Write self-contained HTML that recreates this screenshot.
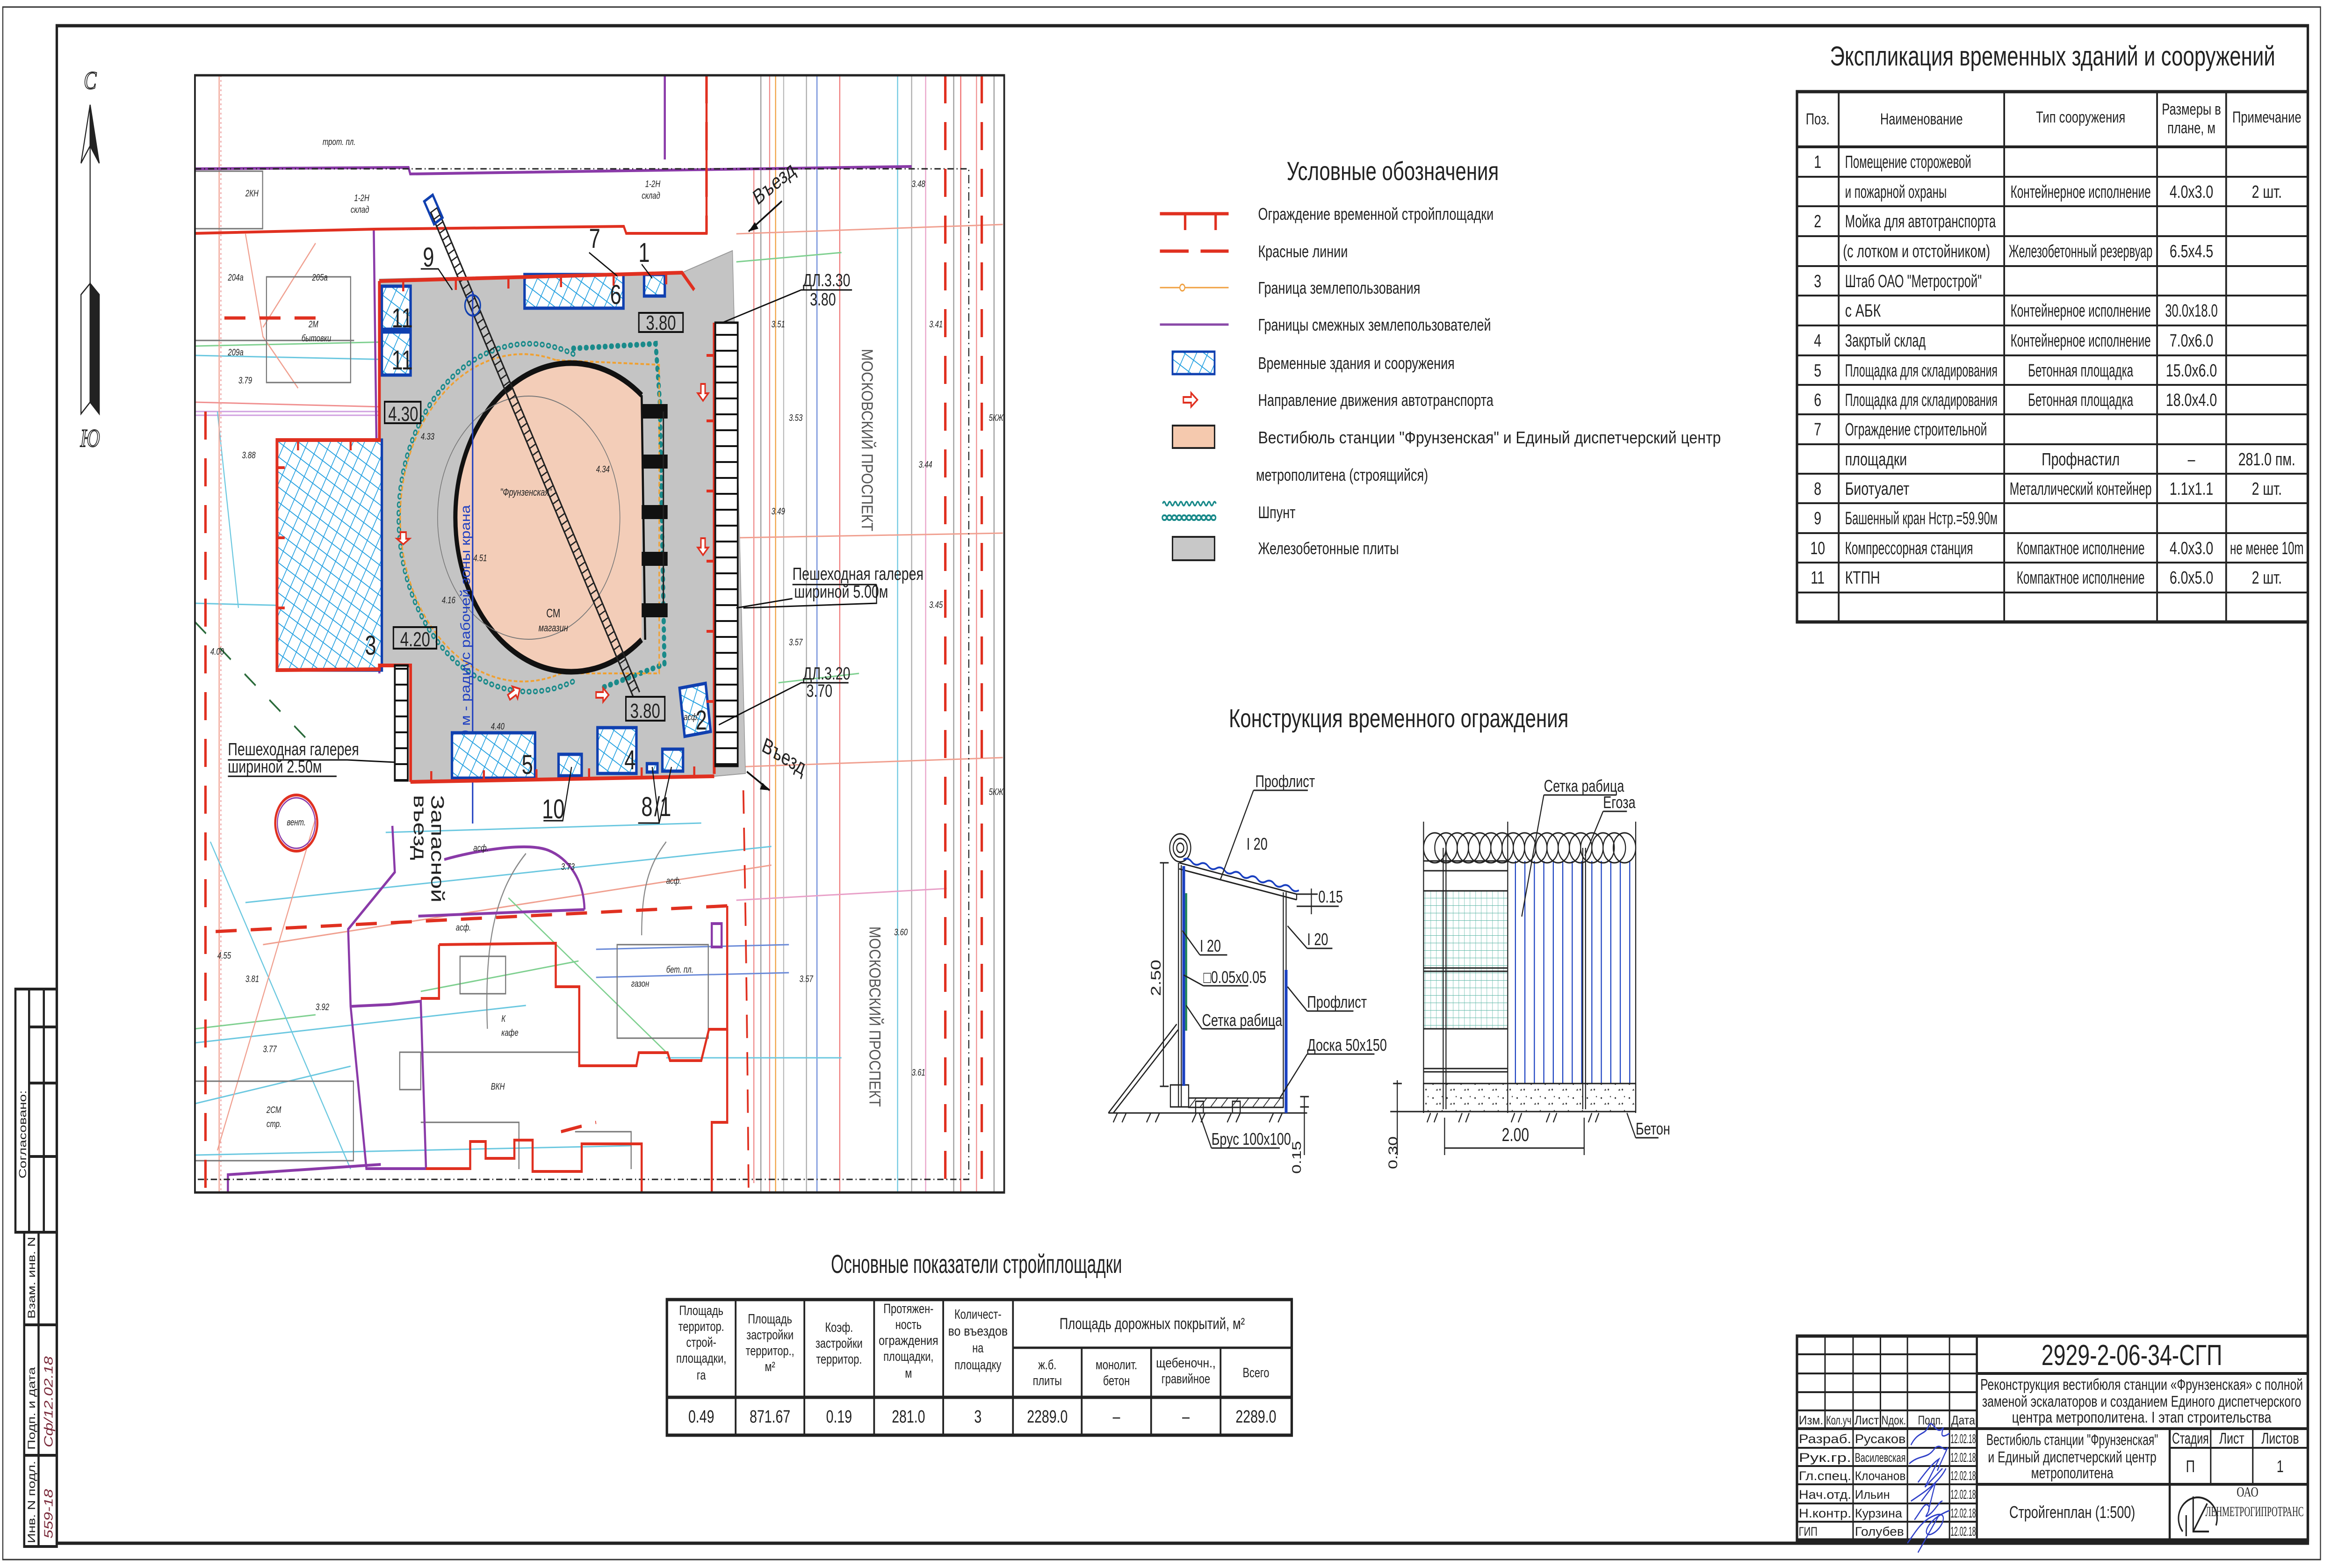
<!DOCTYPE html>
<html><head><meta charset="utf-8"><style>
html,body{margin:0;padding:0;background:#fff;width:100%;height:100%;overflow:hidden;}
svg{display:block;width:100vw;height:100vh;}
text{font-family:"Liberation Sans Narrow","Liberation Sans","DejaVu Sans",sans-serif;fill:#222;}
.sm{font-size:20px;font-style:italic;fill:#555;}
.it{font-style:italic;}
</style></head><body>
<svg viewBox="0 0 6668 3353" preserveAspectRatio="none" xmlns="http://www.w3.org/2000/svg">
<defs>
<pattern id="hat" width="28" height="28" patternUnits="userSpaceOnUse" patternTransform="rotate(30)">
<rect width="28" height="28" fill="#ffffff"/>
<path d="M0 0H28M0 0V28" stroke="#1e9ee0" stroke-width="4"/>
</pattern>
<pattern id="lad" width="40" height="34" patternUnits="userSpaceOnUse">
<rect width="40" height="34" fill="#fff"/><path d="M0 2H40" stroke="#111" stroke-width="4"/>
</pattern>
<pattern id="mesh" width="16" height="16" patternUnits="userSpaceOnUse">
<path d="M0 0H16M0 0V16" stroke="#5fb8a8" stroke-width="2" fill="none"/>
</pattern>
<pattern id="conc" width="40" height="30" patternUnits="userSpaceOnUse">
<rect width="40" height="30" fill="#fff"/><circle cx="7" cy="8" r="2" fill="#333"/><circle cx="27" cy="20" r="2" fill="#333"/><circle cx="33" cy="5" r="1.5" fill="#333"/><path d="M15 22l4 -4l2 4z" fill="#333"/>
</pattern>
<pattern id="gh" width="30" height="30" patternUnits="userSpaceOnUse">
<path d="M0 30L30 0" stroke="#222" stroke-width="2"/>
</pattern>
<clipPath id="mapc"><rect x="556" y="161" width="2308" height="2389"/></clipPath>
</defs>

<rect x="8" y="15" width="6610" height="3320" fill="none" stroke="#333" stroke-width="3"/>
<rect x="162" y="55" width="6420" height="3245" fill="none" stroke="#222" stroke-width="7"/>

<g stroke="#222" stroke-width="6" fill="none">
<rect x="44" y="2115" width="118" height="520"/>
<line x1="83" y1="2115" x2="83" y2="2635"/><line x1="125" y1="2115" x2="125" y2="2635"/>
<line x1="83" y1="2196" x2="162" y2="2196"/><line x1="83" y1="2316" x2="162" y2="2316"/><line x1="83" y1="2473" x2="162" y2="2473"/>
<rect x="69" y="2635" width="93" height="672"/>
<line x1="110" y1="2635" x2="110" y2="3307"/>
<line x1="69" y1="2833" x2="162" y2="2833"/><line x1="69" y1="3112" x2="162" y2="3112"/>
</g>
<text transform="translate(75,2520) rotate(-90)" font-size="30">Согласовано:</text>
<text transform="translate(100,2820) rotate(-90)" font-size="30">Взам. инв. N</text>
<text transform="translate(100,3100) rotate(-90)" font-size="30">Подп. и дата</text>
<text transform="translate(100,3300) rotate(-90)" font-size="30">Инв. N подл.</text>
<text transform="translate(150,3095) rotate(-90)" font-size="34" class="it" style="fill:#7a2a3a">Сф/12.02.18</text>
<text transform="translate(150,3290) rotate(-90)" font-size="34" class="it" style="fill:#7a2a3a">559-18</text>

<text x="257" y="190" font-size="54" text-anchor="middle" style="font-family:'Liberation Serif',serif;font-style:italic;fill:#fff;stroke:#222;stroke-width:2">С</text>
<path d="M257 224 L231 349 L257 312 Z" fill="#fff" stroke="#222" stroke-width="3"/>
<path d="M257 224 L283 349 L257 312 Z" fill="#222" stroke="#222" stroke-width="3"/>
<line x1="257" y1="312" x2="257" y2="606" stroke="#222" stroke-width="3"/>
<path d="M231 630 L257 606 L257 860 L231 885 Z" fill="#fff" stroke="#222" stroke-width="3"/>
<path d="M283 630 L257 606 L257 860 L283 885 Z" fill="#222" stroke="#222" stroke-width="3"/>
<text x="257" y="955" font-size="54" text-anchor="middle" style="font-family:'Liberation Serif',serif;font-style:italic;fill:#fff;stroke:#222;stroke-width:2">Ю</text>

<!-- ================= MAP ================= -->
<g clip-path="url(#mapc)">
<rect x="556" y="161" width="2308" height="2389" fill="#fff"/>
<g fill="none" stroke-width="3">
<path d="M2170 161V2550" stroke="#999"/><path d="M2195 161V2550" stroke="#e88"/><path d="M2212 161V2550" stroke="#f0a040"/>
<path d="M2300 161V2550" stroke="#aaa"/><path d="M2330 161V2550" stroke="#6a8ad8"/><path d="M2395 161V2550" stroke="#e77"/>
<path d="M2560 161V2550" stroke="#6cc8e0"/><path d="M2600 161V2550" stroke="#aaa"/><path d="M2640 161V2550" stroke="#e8a0c8"/>
<path d="M2720 161V2550" stroke="#999"/><path d="M2740 161V2550" stroke="#e66"/><path d="M2835 161V2550" stroke="#999"/>
<path d="M2150 361V2530" stroke="#e88"/><path d="M2235 161V2550" stroke="#bbb"/><path d="M2785 161V2550" stroke="#f09090"/>
<path d="M556 1290L1082 1300" stroke="#6cc8e0"/><path d="M556 860L1090 870" stroke="#f09090"/>
<path d="M556 760L1180 770" stroke="#6cc8e0"/><path d="M556 740L1180 730" stroke="#7fd090"/>
<path d="M556 880L1120 880" stroke="#d0a0e0"/><path d="M556 888L1120 888" stroke="#d0a0e0"/>
<path d="M700 500L750 720L850 830" stroke="#f0a090"/><path d="M900 520L750 700" stroke="#f0a090"/>
<path d="M620 880L680 1300" stroke="#6cc8e0"/><path d="M625 161V2550" stroke="#f0a090"/>
<path d="M630 161V2550" stroke="#eda0a0" stroke-dasharray="4 6"/>
<path d="M700 1930L2200 1810" stroke="#6cc8e0"/><path d="M750 2020L2200 1850" stroke="#f0a090"/>
<path d="M556 2230L1500 2150" stroke="#6cc8e0"/><path d="M1200 2120L1650 2055" stroke="#7fd090"/>
<path d="M1700 2030L2250 2020" stroke="#6a8ad8"/><path d="M1700 2090L2250 2080" stroke="#6a8ad8"/>
<path d="M1900 2262L2400 2262" stroke="#6cc8e0"/><path d="M2100 1925L2700 1900" stroke="#e8a0c8"/>
<path d="M556 2360L1000 2280" stroke="#6cc8e0"/><path d="M556 2470L1800 2450" stroke="#6cc8e0"/>
<path d="M556 2200L900 2170" stroke="#7fd090"/><path d="M1100 1780L2000 1760" stroke="#6cc8e0"/>
<path d="M600 1800L1000 2500" stroke="#6cc8e0"/><path d="M900 1750L620 2460" stroke="#f0a090"/>
<path d="M1450 1920L1900 2250" stroke="#7fd090"/><path d="M2100 1640L2860 1620" stroke="#f0a090"/>
<path d="M2100 500L2860 480" stroke="#f0a090"/><path d="M2100 1150L2860 1140" stroke="#f0a090"/>
<path d="M2100 560L2400 540" stroke="#7fd090"/><path d="M2220 1460L2450 1440" stroke="#7fd090"/>
<path d="M1500 1825C1420 1900 1380 2000 1390 2200" stroke="#888"/>
<path d="M1900 1800C1850 1850 1830 1900 1830 2000" stroke="#888"/>
</g>
<g fill="none" stroke="#777" stroke-width="3">
<rect x="556" y="366" width="193" height="123"/>
<rect x="760" y="592" width="240" height="226"/>
<line x1="556" y1="728" x2="1010" y2="728"/>
<rect x="556" y="2312" width="452" height="170"/>
<rect x="1140" y="2250" width="60" height="80"/>
<path d="M1200 2250L1650 2250"/><path d="M1200 2400L1480 2400L1480 2500"/>
<path d="M1760 2020L2020 2020L2020 2220L1760 2220Z"/>
<rect x="1312" y="2045" width="130" height="80"/>
<path d="M1640 2420L1800 2420L1800 2500"/>
</g>
<g fill="none" stroke="#8a3aa8" stroke-width="6">
<path d="M556 361L1165 358L1170 372L2600 356"/>
<path d="M1896 161V341"/>
<path d="M1066 492L1082 1440"/>
<path d="M1119 1766L1126 1865L993 1987L1000 2152L1045 2499L1215 2499L1200 2141L1112 2148L1000 2152"/>
<path d="M1193 1959L1667 1945"/>
<path d="M1267 1838C1350 1820 1500 1800 1563 1818C1620 1835 1665 1880 1667 1945"/>
<path d="M1086 2490L650 2512L650 2550"/>
<rect x="2030" y="1975" width="28" height="50"/>
<rect x="1860" y="1320" width="30" height="40"/>
</g>
<circle cx="845" cy="1760" r="60" fill="none" stroke="#e03020" stroke-width="6"/>
<circle cx="845" cy="1760" r="54" fill="none" stroke="#8a3aa8" stroke-width="3"/>
<text x="845" y="1765" font-size="20" class="it" text-anchor="middle">вент.</text>
<path d="M556 361H2763V2522H556" fill="none" stroke="#222" stroke-width="3" stroke-dasharray="18 8 3 8"/>
<g fill="none" stroke="#e03020" stroke-width="7" stroke-dasharray="60 40">
<path d="M586 880V2550"/><path d="M2696 161V2550"/><path d="M2800 161V2550"/>
<path d="M615 1992L2074 1937"/>
<path d="M640 680H900"/><path d="M1170 715H1950"/>
<path d="M2015 161V500"/>
<path d="M1600 2420L1700 2400"/>
</g>
<path d="M556 1330L900 1600" fill="none" stroke="#2a6a3a" stroke-width="4" stroke-dasharray="40 50"/>
<path d="M1180 1500L1600 1450" fill="none" stroke="#2a6a3a" stroke-width="4" stroke-dasharray="30 40"/>
<g fill="none" stroke="#e03020" stroke-width="6">
<path d="M556 499L1067 490L1779 484L1786 499L2015 499L2015 161"/>
<path d="M1252 2020L1585 2017L1585 2110L1652 2110L1652 2279L1815 2279L1822 2251L1904 2251L1911 2268L2000 2268L2022 2201L2074 2201L2074 1937"/>
<path d="M1252 2020L1252 2135L1200 2135"/>
<path d="M1215 2499L1341 2499L1341 2441L1385 2441L1385 2477L1467 2477L1467 2438L1519 2438L1519 2505L1659 2505L1659 2446L1830 2446L1830 2550"/>
<path d="M2074 2201L2074 2400L2030 2400L2030 2550"/>
</g>

<path d="M1082 597L1948 582L2089 536L2126 1654L2037 1660L1171 1674L1171 1423L1082 1423Z" fill="#c4c4c4" stroke="#999" stroke-width="2"/>
<path d="M1635 757A372 372 0 1 0 1635 1457" fill="none" stroke="#1a8a8a" stroke-width="12" stroke-dasharray="2 16" stroke-linecap="round"/>
<path d="M1635 757A372 372 0 1 0 1635 1457" fill="none" stroke="#c4c4c4" stroke-width="5" stroke-dasharray="2 16" stroke-linecap="round"/>
<path d="M1635 745L1870 735L1882 860L1895 1420L1720 1470" fill="none" stroke="#1a8a8a" stroke-width="12" stroke-dasharray="2 16" stroke-linecap="round"/>
<path d="M1600 1160c10 40-10 80 0 120s-10 80 0 120M1750 1100c10 40-10 80 0 120s-10 80 0 120" fill="none" stroke="#1a8a8a" stroke-width="4"/>
<path d="M1585 770A350 350 0 1 0 1600 1440L1880 1440L1880 780Z" fill="none" stroke="#f0a030" stroke-width="4" stroke-dasharray="10 6"/>
<path d="M1830 845A330 330 0 1 0 1830 1368Z" fill="#f3cdb8"/>
<path d="M1830 845A330 330 0 1 0 1830 1368" fill="none" stroke="#111" stroke-width="12"/>
<path d="M1830 845L1840 1368" stroke="#111" stroke-width="6"/>
<circle cx="1508" cy="1107" r="260" fill="none" stroke="#777" stroke-width="2"/>
<g fill="#111">
<rect x="1830" y="864" width="74" height="31"/><rect x="1830" y="972" width="74" height="30"/>
<rect x="1830" y="1080" width="74" height="30"/><rect x="1830" y="1180" width="74" height="30"/>
<rect x="1830" y="1290" width="74" height="30"/>
</g>
<path d="M1892 880V1290" stroke="#222" stroke-width="4"/>
<text x="1500" y="1060" font-size="22" class="it" text-anchor="middle">"Фрунзенская"</text>
<text x="1578" y="1320" font-size="26" text-anchor="middle">СМ</text>
<text x="1578" y="1350" font-size="22" class="it" text-anchor="middle">магазин</text>
<path d="M1246 443L1824 1480M1228 453L1806 1490" stroke="#222" stroke-width="4"/>
<path d="M1237 448L1815 1485" stroke="#222" stroke-width="20" stroke-dasharray="3 14"/>
<rect x="1222" y="420" width="28" height="56" transform="rotate(-30 1236 448)" fill="none" stroke="#1040b0" stroke-width="6"/>
<circle cx="1348" cy="653" r="22" fill="none" stroke="#1040b0" stroke-width="4"/>
<path d="M1348 623V1761" stroke="#2040c0" stroke-width="4"/>
<text transform="translate(1340,1640) rotate(-90)" font-size="38" textLength="560" lengthAdjust="spacingAndGlyphs" style="fill:#2040c0">R=60 м - радиус рабочей зоны крана</text>

<g fill="url(#hat)" stroke="#1040b0" stroke-width="7">
<rect x="790" y="941" width="299" height="492"/>
<rect x="1089" y="612" width="82" height="92"/><rect x="1089" y="710" width="82" height="92"/>
<rect x="1496" y="587" width="282" height="72"/>
<rect x="1837" y="587" width="59" height="46"/>
<rect x="1289" y="1567" width="237" height="97"/>
<rect x="1593" y="1613" width="66" height="46"/>
<rect x="1704" y="1556" width="111" height="98"/>
<rect x="1889" y="1602" width="59" height="47"/>
<rect x="1845" y="1633" width="30" height="18"/>
<rect x="1945" y="1466" width="75" height="104" transform="rotate(-8 1982 1518)"/>
</g>
<g fill="none" stroke="#e03020" stroke-width="8">
<path d="M1082 601L1945 583L1980 620"/>
<path d="M2037 690V1655"/>
<path d="M1171 1672L2037 1660"/>
<path d="M1171 1672V1423L1082 1423V1431L790 1433V941L1082 941V601"/>
</g>
<g stroke="#e03020" stroke-width="6">
<path d="M1150 601v22M1300 598v22M1450 595v22M1600 592v22M1750 589v22M1900 586v22"/>
<path d="M2037 760h-22M2037 900h-22M2037 1050h-22M2037 1200h-22M2037 1350h-22M2037 1500h-22"/>
<path d="M1230 1671v-22M1380 1669v-22M1530 1667v-22M1680 1665v-22M1830 1663v-22M1980 1661v-22"/>
<path d="M790 1000h22M790 1150h22M790 1300h22M850 941v22M1000 941v22"/>
</g>
<rect x="2040" y="690" width="64" height="948" fill="url(#lad)" stroke="#111" stroke-width="5"/>
<rect x="1126" y="1423" width="37" height="246" fill="url(#lad)" stroke="#111" stroke-width="5"/>
<g fill="#fff" stroke="#e03020" stroke-width="4">
<path d="M1140 1140h14v-10l12 18l-12 18v-10h-14z" transform="rotate(90 1150 1148)"/>
<path d="M1700 1480h20v-9l16 15l-16 15v-9h-20z"/>
<path d="M1450 1480h20v-9l16 15l-16 15v-9h-20z" transform="rotate(-30 1460 1486)"/>
<path d="M1980 820h20v-9l16 15l-16 15v-9h-20z" transform="rotate(90 1995 836)"/>
<path d="M1980 1150h20v-9l16 15l-16 15v-9h-20z" transform="rotate(90 1995 1166)"/>
</g>
<g fill="none" stroke="#111" stroke-width="4">
<rect x="1822" y="669" width="126" height="41"/><rect x="1097" y="859" width="103" height="46"/>
<rect x="1122" y="1341" width="123" height="46"/><rect x="1785" y="1490" width="111" height="51"/>
</g>
<g font-size="44">
<text x="1885" y="705" text-anchor="middle">3.80</text>
<text x="1150" y="900" text-anchor="middle">4.30</text>
<text x="1184" y="1382" text-anchor="middle">4.20</text>
<text x="1840" y="1535" text-anchor="middle">3.80</text>
</g>
<g font-size="58" text-anchor="middle">
<text x="1222" y="570">9</text><text x="1696" y="530">7</text><text x="1837" y="560">1</text>
<text x="1756" y="650">6</text><text x="1147" y="700">11</text><text x="1147" y="790">11</text>
<text x="1057" y="1400">3</text><text x="1504" y="1655">5</text><text x="1797" y="1645">4</text>
<text x="2000" y="1560">2</text><text x="1578" y="1750">10</text><text x="1845" y="1745">8</text><text x="1890" y="1745">/1</text>
</g>
<g stroke="#111" stroke-width="3" fill="none">
<path d="M1200 575H1250L1290 620"/><path d="M1680 540L1760 590"/><path d="M1830 565L1860 595"/>
<path d="M1550 1755H1605L1630 1640"/><path d="M1820 1760H1880L1860 1640M1880 1760L1915 1640"/>
</g>
<text transform="translate(2160,440) rotate(-32)" font-size="46">Въезд</text>
<path d="M2230 430L2135 495" stroke="#111" stroke-width="4"/><path d="M2135 495l28 -6l-10 -14z" fill="#111"/>
<text transform="translate(2170,1605) rotate(24)" font-size="46">Въезд</text>
<path d="M2130 1650L2195 1690" stroke="#111" stroke-width="4"/><path d="M2195 1690l-28 -2l8 -14z" fill="#111"/>
<text transform="translate(1230,1700) rotate(90)" font-size="52">Запасной</text>
<text transform="translate(1180,1700) rotate(90)" font-size="52">въезд</text>
<g font-size="38">
<text x="2290" y="612">ДЛ.3.30</text><text x="2310" y="653">3.80</text>
<text x="2290" y="1453">ДЛ.3.20</text><text x="2300" y="1490">3.70</text>
<text x="2260" y="1240">Пешеходная галерея</text><text x="2265" y="1278">шириной 5.00м</text>
<text x="650" y="1615">Пешеходная галерея</text><text x="650" y="1652">шириной 2.50м</text>
</g>
<g stroke="#111" stroke-width="3" fill="none">
<path d="M2430 620H2285L2060 690"/><path d="M2420 1460H2285L2050 1550"/>
<path d="M2500 1250H2260M2500 1250V1290L2120 1300"/><path d="M2100 1300L2260 1280"/>
<path d="M650 1625H990L1126 1630"/><path d="M650 1660H960"/>
</g>
<text transform="translate(2458,746) rotate(90)" font-size="46" textLength="390" lengthAdjust="spacingAndGlyphs" style="fill:#555">МОСКОВСКИЙ ПРОСПЕКТ</text>
<text transform="translate(2480,1981) rotate(90)" font-size="46" textLength="386" lengthAdjust="spacingAndGlyphs" style="fill:#555">МОСКОВСКИЙ ПРОСПЕКТ</text>
<g class="sm">
<text x="700" y="420">2КН</text><text x="880" y="700">2М</text><text x="860" y="730">бытовки</text>
<text x="1010" y="430">1-2Н</text><text x="1000" y="455">склад</text><text x="1840" y="400">1-2Н</text><text x="1830" y="425">склад</text>
<text x="920" y="310">трот. пл.</text><text x="650" y="600">204а</text><text x="890" y="600">205а</text><text x="650" y="760">209а</text>
<text x="680" y="820">3.79</text><text x="690" y="980">3.88</text><text x="600" y="1400">4.00</text><text x="1430" y="2185">К</text><text x="1430" y="2215">кафе</text>
<text x="1400" y="2330">ВКН</text><text x="760" y="2380">2СМ</text><text x="760" y="2410">стр.</text><text x="1350" y="1820">асф.</text>
<text x="1600" y="1860">3.73</text><text x="1900" y="1890">асф.</text><text x="1900" y="2080">бет. пл.</text><text x="1800" y="2110">газон</text>
<text x="620" y="2050">4.55</text><text x="700" y="2100">3.81</text><text x="900" y="2160">3.92</text><text x="750" y="2250">3.77</text>
<text x="2200" y="700">3.51</text><text x="2250" y="900">3.53</text><text x="2200" y="1100">3.49</text><text x="2250" y="1380">3.57</text>
<text x="2600" y="400">3.48</text><text x="2650" y="700">3.41</text><text x="2620" y="1000">3.44</text><text x="2650" y="1300">3.45</text>
<text x="2550" y="2000">3.60</text><text x="2600" y="2300">3.61</text><text x="2280" y="2100">3.57</text><text x="2820" y="900">5КЖ</text>
<text x="2820" y="1700">5КЖ</text><text x="1200" y="940">4.33</text><text x="1260" y="1290">4.16</text><text x="1700" y="1010">4.34</text>
<text x="1350" y="1200">4.51</text><text x="1400" y="1560">4.40</text><text x="1950" y="1540">асф.</text><text x="1300" y="1990">асф.</text>
</g>
<path d="M2120 1690C2125 1900 2130 2100 2135 2550" fill="none" stroke="#e03020" stroke-width="5" stroke-dasharray="50 30"/>
</g>
<rect x="556" y="161" width="2308" height="2389" fill="none" stroke="#222" stroke-width="5"/>

<!-- ================= LEGEND ================= -->
<text x="3972" y="385" font-size="56" text-anchor="middle">Условные обозначения</text>
<g stroke-width="7" fill="none">
<path d="M3308 457H3504M3380 457v35M3467 457v35" stroke="#e03020"/>
<path d="M3308 537H3390M3424 537H3504" stroke="#e03020"/>
<path d="M3308 615H3504" stroke="#f0a040" stroke-width="3"/>
<path d="M3308 694H3504" stroke="#8a4aa8" stroke-width="5"/>
</g>
<circle cx="3372" cy="615" r="7" fill="#fff" stroke="#f0a040" stroke-width="3"/>
<rect x="3344" y="752" width="120" height="48" fill="url(#hat)" stroke="#1040b0" stroke-width="5"/>
<path d="M3375 849h22v-9l18 15l-18 15v-9h-22z" fill="#fff" stroke="#e03020" stroke-width="4"/>
<rect x="3344" y="910" width="120" height="48" fill="#f5c9ae" stroke="#222" stroke-width="4"/>
<path d="M3316 1077q4 -8 8 0t8 0t8 0t8 0t8 0t8 0t8 0t8 0t8 0t8 0t8 0t8 0t8 0t8 0t8 0t8 0t8 0t8 0t8 0" fill="none" stroke="#1a8a8a" stroke-width="4"/>
<path d="M3320 1107h145" stroke="#1a8a8a" stroke-width="14" stroke-dasharray="2 12" stroke-linecap="round" fill="none"/>
<path d="M3320 1107h145" stroke="#fff" stroke-width="6" stroke-dasharray="2 12" stroke-linecap="round" fill="none"/>
<rect x="3344" y="1148" width="120" height="50" fill="#c8c8c8" stroke="#222" stroke-width="4"/>
<g font-size="36">
<text x="3588" y="470">Ограждение временной стройплощадки</text>
<text x="3588" y="550">Красные линии</text>
<text x="3588" y="628">Граница землепользования</text>
<text x="3588" y="707">Границы смежных землепользователей</text>
<text x="3588" y="789">Временные здания и сооружения</text>
<text x="3588" y="868">Направление движения автотранспорта</text>
<text x="3588" y="948" textLength="1320" lengthAdjust="spacingAndGlyphs">Вестибюль станции "Фрунзенская" и Единый диспетчерский центр</text>
<text x="3582" y="1028">метрополитена (строящийся)</text>
<text x="3588" y="1108">Шпунт</text>
<text x="3588" y="1185">Железобетонные плиты</text>
</g>

<!-- ================= FENCE CONSTRUCTION ================= -->
<text x="3989" y="1555" font-size="56" text-anchor="middle">Конструкция временного ограждения</text>
<g stroke="#222" stroke-width="3" fill="none">
<path d="M3161 2380H3728"/>
<path d="M3175 2400l12 -20M3200 2400l12 -20M3270 2400l12 -20M3295 2400l12 -20M3400 2400l12 -20M3425 2400l12 -20M3500 2400l12 -20M3525 2400l12 -20M3620 2400l12 -20M3645 2400l12 -20"/>
<path d="M3361 1845V2367M3369 1850V2367"/>
<path d="M3660 1908V2367M3668 1908V2367"/>
<path d="M3363 1845L3698 1912M3363 1858L3698 1924M3698 1912V1924"/>
<path d="M3161 2380L3356 2190M3175 2380L3360 2202"/>
<rect x="3338" y="2320" width="52" height="47"/>
<rect x="3390" y="2348" width="270" height="20" fill="url(#gh)"/>
<rect x="3410" y="2355" width="22" height="25"/><rect x="3515" y="2355" width="22" height="25"/>
<path d="M3318 1845V2323M3308 1845h25M3308 2323h25"/>
<path d="M3720 2345V2470M3708 2345h25M3708 2367h25"/>
<path d="M3698 1912h60M3698 1938h120M3740 1900v55"/>
<circle cx="3366" cy="1813" r="30"/><circle cx="3366" cy="1813" r="20"/><circle cx="3366" cy="1813" r="10"/>
</g>
<path d="M3376 1852V2322" stroke="#1a40c0" stroke-width="8"/>
<path d="M3383 1910V2204" stroke="#2a8a5a" stroke-width="6"/>
<path d="M3668 2074V2380" stroke="#1a40c0" stroke-width="8"/>
<path d="M3375 1838q12 -8 24 0t24 0t24 0t24 0t24 0t24 0t24 0t24 0t24 0t24 0t24 0t24 0t24 0t24 0" fill="none" stroke="#1a40c0" stroke-width="4" transform="rotate(11.3 3375 1838)"/>
<g font-size="36">
<text x="3580" y="1683">Профлист</text><text x="3555" y="1817">I 20</text><text x="3760" y="1930">0.15</text>
<text x="3422" y="2035">I 20</text><text x="3728" y="2021">I 20</text><text x="3432" y="2102">□0.05x0.05</text>
<text x="3428" y="2194">Сетка рабица</text><text x="3728" y="2155">Профлист</text><text x="3728" y="2247">Доска 50x150</text>
<text x="3455" y="2448">Брус 100x100</text>
</g>
<text transform="translate(3310,2130) rotate(-90)" font-size="40">2.50</text>
<text transform="translate(3710,2510) rotate(-90)" font-size="36">0.15</text>
<g stroke="#222" stroke-width="3" fill="none">
<path d="M3575 1690H3730M3575 1690L3480 1882"/><path d="M3422 2042H3500M3422 2042L3372 1990"/>
<path d="M3728 2028H3800M3728 2028L3672 1980"/><path d="M3432 2108H3560M3432 2108L3376 2085"/>
<path d="M3428 2200H3635M3428 2200L3383 2150"/><path d="M3728 2162H3860M3728 2162L3672 2110"/>
<path d="M3728 2254H3920M3728 2254L3650 2348"/><path d="M3455 2455H3650M3455 2455L3420 2380"/>
</g>
<rect x="4060" y="1905" width="240" height="295" fill="url(#mesh)"/>
<g stroke="#1a40c0" stroke-width="3">
<path d="M4322 1841V2317M4349 1841V2317M4376 1841V2317M4403 1841V2317M4430 1841V2317M4457 1841V2317M4484 1841V2317M4511 1841V2317M4540 1841V2317M4567 1841V2317M4594 1841V2317M4621 1841V2317M4648 1841V2317"/>
</g>
<rect x="4060" y="2317" width="605" height="60" fill="url(#conc)" stroke="#222" stroke-width="3"/>
<g stroke="#222" stroke-width="3" fill="none">
<path d="M4060 1757V2380M4300 1757V2380M4665 1757V2380"/>
<path d="M4116 1813V2372M4124 1813V2372M4514 1813V2372M4522 1813V2372"/>
<path d="M4060 1841H4300M4060 1862H4300M4060 2070H4300M4060 2077H4300M4060 2285H4300M4060 2292H4300M4060 1905H4300M4060 2200H4300"/>
<path d="M4300 2317H4665"/>
<path d="M3965 2377H4665"/>
<path d="M4070 2400l10 -20M4090 2400l10 -20M4160 2400l10 -20M4180 2400l10 -20M4310 2400l10 -20M4330 2400l10 -20M4410 2400l10 -20M4430 2400l10 -20M4530 2400l10 -20M4550 2400l10 -20"/>
<path d="M3985 2310V2470M3973 2317h25M3973 2377h25"/>
<path d="M4120 2455H4518M4120 2440v30M4518 2440v30M4120 2390V2470M4518 2390V2470"/>
<path d="M4403 1700H4610M4403 1700L4340 1960"/><path d="M4572 1735H4640M4572 1735L4520 1830"/>
<path d="M4665 2433H4730M4665 2433L4640 2380"/>
</g>
<g stroke="#222" stroke-width="3" fill="none">
<circle cx="4092" cy="1813" r="32"/><circle cx="4124" cy="1813" r="32"/><circle cx="4156" cy="1813" r="32"/><circle cx="4188" cy="1813" r="32"/>
<circle cx="4220" cy="1813" r="32"/><circle cx="4252" cy="1813" r="32"/><circle cx="4284" cy="1813" r="32"/><circle cx="4316" cy="1813" r="32"/>
<circle cx="4348" cy="1813" r="32"/><circle cx="4380" cy="1813" r="32"/><circle cx="4412" cy="1813" r="32"/><circle cx="4444" cy="1813" r="32"/>
<circle cx="4476" cy="1813" r="32"/><circle cx="4508" cy="1813" r="32"/><circle cx="4540" cy="1813" r="32"/><circle cx="4572" cy="1813" r="32"/>
<circle cx="4604" cy="1813" r="32"/><circle cx="4633" cy="1813" r="32"/>
</g>
<g font-size="36">
<text x="4403" y="1693">Сетка рабица</text><text x="4572" y="1728">Егоза</text><text x="4665" y="2426">Бетон</text>
<text x="4322" y="2440" text-anchor="middle" font-size="40">2.00</text>
</g>
<text transform="translate(3985,2500) rotate(-90)" font-size="36">0.30</text>

<!-- ================= EXPLICATION TABLE ================= -->
<text x="5854" y="140" font-size="58" text-anchor="middle" textLength="1270" lengthAdjust="spacingAndGlyphs">Экспликация временных зданий и сооружений</text>
<g stroke="#222" fill="none">
<rect x="5125" y="196" width="1457" height="1134" stroke-width="7"/>
<path d="M5244 196V1330M5716 196V1330M6152 196V1330M6349 196V1330" stroke-width="5"/>
<path d="M5125 314H6582" stroke-width="6"/>
<path d="M5125 378H6582M5125 441H6582M5125 505H6582M5125 569H6582M5125 632H6582M5125 696H6582M5125 760H6582M5125 823H6582M5125 886H6582M5125 950H6582M5125 1013H6582M5125 1076H6582M5125 1140H6582M5125 1203H6582M5125 1267H6582" stroke-width="4"/>
</g>
<g font-size="34" text-anchor="middle">
<text x="5184" y="266">Поз.</text><text x="5480" y="266">Наименование</text><text x="5934" y="262">Тип сооружения</text>
<text x="6250" y="245">Размеры в</text><text x="6250" y="285">плане, м</text><text x="6465" y="262">Примечание</text>
</g>
<g font-size="38">
<g text-anchor="middle">
<text x="5184" y="359">1</text><text x="5184" y="486">2</text><text x="5184" y="614">3</text><text x="5184" y="741">4</text>
<text x="5184" y="805">5</text><text x="5184" y="868">6</text><text x="5184" y="931">7</text><text x="5184" y="1058">8</text>
<text x="5184" y="1121">9</text><text x="5184" y="1185">10</text><text x="5184" y="1248">11</text>
<text x="5934" y="423" textLength="400" lengthAdjust="spacingAndGlyphs">Контейнерное исполнение</text>
<text x="5934" y="550" textLength="410" lengthAdjust="spacingAndGlyphs">Железобетонный резервуар</text>
<text x="5934" y="677" textLength="400" lengthAdjust="spacingAndGlyphs">Контейнерное исполнение</text>
<text x="5934" y="741" textLength="400" lengthAdjust="spacingAndGlyphs">Контейнерное исполнение</text>
<text x="5934" y="805" textLength="300" lengthAdjust="spacingAndGlyphs">Бетонная площадка</text>
<text x="5934" y="868" textLength="300" lengthAdjust="spacingAndGlyphs">Бетонная площадка</text>
<text x="5934" y="995">Профнастил</text>
<text x="5934" y="1058" textLength="405" lengthAdjust="spacingAndGlyphs">Металлический контейнер</text>
<text x="5934" y="1185" textLength="365" lengthAdjust="spacingAndGlyphs">Компактное исполнение</text>
<text x="5934" y="1248" textLength="365" lengthAdjust="spacingAndGlyphs">Компактное исполнение</text>
<text x="6250" y="423">4.0х3.0</text><text x="6250" y="550">6.5х4.5</text><text x="6250" y="677" textLength="150" lengthAdjust="spacingAndGlyphs">30.0х18.0</text>
<text x="6250" y="741">7.0х6.0</text><text x="6250" y="805">15.0х6.0</text><text x="6250" y="868">18.0х4.0</text>
<text x="6250" y="995">–</text><text x="6250" y="1058">1.1х1.1</text><text x="6250" y="1185">4.0х3.0</text><text x="6250" y="1248">6.0х5.0</text>
<text x="6465" y="423">2 шт.</text><text x="6465" y="995">281.0 пм.</text><text x="6465" y="1058">2 шт.</text>
<text x="6465" y="1185" textLength="210" lengthAdjust="spacingAndGlyphs">не менее 10m</text><text x="6465" y="1248">2 шт.</text>
</g>
<text x="5262" y="359" textLength="360" lengthAdjust="spacingAndGlyphs">Помещение сторожевой</text>
<text x="5262" y="423" textLength="290" lengthAdjust="spacingAndGlyphs">и пожарной охраны</text>
<text x="5262" y="486" textLength="430" lengthAdjust="spacingAndGlyphs">Мойка для автотранспорта</text>
<text x="5256" y="550" textLength="420" lengthAdjust="spacingAndGlyphs">(с лотком и отстойником)</text>
<text x="5262" y="614" textLength="390" lengthAdjust="spacingAndGlyphs">Штаб ОАО "Метрострой"</text>
<text x="5262" y="677">с АБК</text>
<text x="5262" y="741" textLength="230" lengthAdjust="spacingAndGlyphs">Закртый склад</text>
<text x="5262" y="805" textLength="435" lengthAdjust="spacingAndGlyphs">Площадка для складирования</text>
<text x="5262" y="868" textLength="435" lengthAdjust="spacingAndGlyphs">Площадка для складирования</text>
<text x="5262" y="931" textLength="405" lengthAdjust="spacingAndGlyphs">Ограждение строительной</text>
<text x="5262" y="995">площадки</text><text x="5262" y="1058">Биотуалет</text>
<text x="5262" y="1121" textLength="435" lengthAdjust="spacingAndGlyphs">Башенный кран Нстр.=59.90м</text>
<text x="5262" y="1185" textLength="365" lengthAdjust="spacingAndGlyphs">Компрессорная станция</text>
<text x="5262" y="1248">КТПН</text>
</g>

<!-- ================= INDICATORS TABLE ================= -->
<text x="2785" y="2722" font-size="56" text-anchor="middle" textLength="830" lengthAdjust="spacingAndGlyphs">Основные показатели стройплощадки</text>
<g stroke="#222" fill="none">
<rect x="1902" y="2779" width="1782" height="290" stroke-width="7"/>
<path d="M2098 2779V3069M2294 2779V3069M2493 2779V3069M2690 2779V3069M2889 2779V3069" stroke-width="5"/>
<path d="M3085 2882V3069M3283 2882V3069M3481 2882V3069" stroke-width="5"/>
<path d="M2889 2882H3684" stroke-width="5"/>
<path d="M1902 2988H3684" stroke-width="7"/>
</g>
<g font-size="29" text-anchor="middle">
<text x="2000" y="2812">Площадь</text><text x="2000" y="2846">территор.</text><text x="2000" y="2880">строй-</text><text x="2000" y="2914">площадки,</text><text x="2000" y="2950">га</text>
<text x="2196" y="2830">Площадь</text><text x="2196" y="2864">застройки</text><text x="2196" y="2898">территор.,</text><text x="2196" y="2932">м²</text>
<text x="2393" y="2848">Коэф.</text><text x="2393" y="2882">застройки</text><text x="2393" y="2916">территор.</text>
<text x="2591" y="2808">Протяжен-</text><text x="2591" y="2842">ность</text><text x="2591" y="2876" textLength="170" lengthAdjust="spacingAndGlyphs">ограждения</text><text x="2591" y="2910">площадки,</text><text x="2591" y="2946">м</text>
<text x="2789" y="2820">Количест-</text><text x="2789" y="2856" textLength="170" lengthAdjust="spacingAndGlyphs">во въездов</text><text x="2789" y="2892">на</text><text x="2789" y="2928">площадку</text>
<text x="3286" y="2842" font-size="34">Площадь дорожных покрытий, м²</text>
<text x="2987" y="2928">ж.б.</text><text x="2987" y="2962">плиты</text>
<text x="3184" y="2928">монолит.</text><text x="3184" y="2962">бетон</text>
<text x="3382" y="2924" textLength="170" lengthAdjust="spacingAndGlyphs">щебеночн.,</text><text x="3382" y="2958">гравийное</text>
<text x="3582" y="2945">Всего</text>
</g>
<g font-size="38" text-anchor="middle">
<text x="2000" y="3042">0.49</text><text x="2196" y="3042">871.67</text><text x="2393" y="3042">0.19</text>
<text x="2591" y="3042">281.0</text><text x="2789" y="3042">3</text><text x="2987" y="3042">2289.0</text>
<text x="3184" y="3042">–</text><text x="3382" y="3042">–</text><text x="3582" y="3042">2289.0</text>
</g>

<!-- ================= TITLE BLOCK ================= -->
<g stroke="#222" fill="none">
<rect x="5125" y="2857" width="1457" height="436" stroke-width="7"/>
<path d="M5638 2857V3293" stroke-width="6"/>
<path d="M5205 2857V3055M5285 2857V3293M5363 2857V3055M5440 2857V3293M5560 2857V3293" stroke-width="4"/>
<path d="M5125 2896H5638M5125 2937H5638M5125 2977H5638M5125 3016H5638" stroke-width="4"/>
<path d="M5125 3055H6582" stroke-width="6"/>
<path d="M5125 3096H5638M5125 3135H5638M5125 3174H5638M5125 3215H5638M5125 3254H5638" stroke-width="4"/>
<path d="M5638 2937H6582" stroke-width="6"/>
<path d="M5638 3174H6582M6188 3055V3293" stroke-width="6"/>
<path d="M6188 3096H6582M6305 3055V3174M6425 3055V3174" stroke-width="4"/>
</g>
<text x="6080" y="2919" font-size="62" text-anchor="middle">2929-2-06-34-СГП</text>
<g font-size="33" text-anchor="middle">
<text x="6108" y="2972" textLength="920" lengthAdjust="spacingAndGlyphs">Реконструкция вестибюля станции «Фрунзенская» с полной</text>
<text x="6108" y="3008" textLength="910" lengthAdjust="spacingAndGlyphs">заменой эскалаторов и созданием Единого диспетчерского</text>
<text x="6108" y="3042" textLength="740" lengthAdjust="spacingAndGlyphs">центра метрополитена. I этап строительства</text>
<text x="5910" y="3090" textLength="490" lengthAdjust="spacingAndGlyphs">Вестибюль станции "Фрунзенская"</text>
<text x="5910" y="3127">и Единый диспетчерский центр</text>
<text x="5910" y="3161">метрополитена</text>
<text x="6247" y="3087" textLength="105" lengthAdjust="spacingAndGlyphs">Стадия</text><text x="6365" y="3087">Лист</text><text x="6503" y="3087">Листов</text>
<text x="6247" y="3148" font-size="36">П</text><text x="6503" y="3148" font-size="36">1</text>
<text x="5910" y="3246" font-size="36">Стройгенплан (1:500)</text>
</g>
<g font-size="27">
<text x="5130" y="3046" textLength="70" lengthAdjust="spacingAndGlyphs">Изм.</text><text x="5208" y="3046" textLength="72" lengthAdjust="spacingAndGlyphs">Кол.уч</text><text x="5289" y="3046" textLength="70" lengthAdjust="spacingAndGlyphs">Лист</text><text x="5366" y="3046" textLength="70" lengthAdjust="spacingAndGlyphs">Nдок.</text><text x="5470" y="3046">Подп.</text><text x="5565" y="3046" textLength="68" lengthAdjust="spacingAndGlyphs">Дата</text>
<text x="5130" y="3086" textLength="150" lengthAdjust="spacingAndGlyphs">Разраб.</text><text x="5290" y="3086" textLength="145" lengthAdjust="spacingAndGlyphs">Русаков</text>
<text x="5130" y="3126" textLength="150" lengthAdjust="spacingAndGlyphs">Рук.гр.</text><text x="5290" y="3126" textLength="145" lengthAdjust="spacingAndGlyphs">Василевская</text>
<text x="5130" y="3165" textLength="150" lengthAdjust="spacingAndGlyphs">Гл.спец.</text><text x="5290" y="3165" textLength="145" lengthAdjust="spacingAndGlyphs">Клочанов</text>
<text x="5130" y="3205" textLength="150" lengthAdjust="spacingAndGlyphs">Нач.отд.</text><text x="5290" y="3205" textLength="100" lengthAdjust="spacingAndGlyphs">Ильин</text>
<text x="5130" y="3245" textLength="150" lengthAdjust="spacingAndGlyphs">Н.контр.</text><text x="5290" y="3245" textLength="135" lengthAdjust="spacingAndGlyphs">Курзина</text>
<text x="5130" y="3284">ГИП</text><text x="5290" y="3284" textLength="140" lengthAdjust="spacingAndGlyphs">Голубев</text>
<g font-size="28"><text x="5563" y="3086" textLength="72" lengthAdjust="spacingAndGlyphs">12.02.18</text><text x="5563" y="3126" textLength="72" lengthAdjust="spacingAndGlyphs">12.02.18</text><text x="5563" y="3165" textLength="72" lengthAdjust="spacingAndGlyphs">12.02.18</text><text x="5563" y="3205" textLength="72" lengthAdjust="spacingAndGlyphs">12.02.18</text><text x="5563" y="3245" textLength="72" lengthAdjust="spacingAndGlyphs">12.02.18</text><text x="5563" y="3284" textLength="72" lengthAdjust="spacingAndGlyphs">12.02.18</text></g>
</g>
<g fill="none" stroke="#3040c8" stroke-width="3">
<path d="M5450 3090c20-30 40-20 50-40s20 20 40 5c10-10-20 30 20 10"/>
<path d="M5445 3130c30-20 50-10 70-30s30 10 40-5l-30 50"/>
<path d="M5470 3170c20-20 40-40 60-50l-40 60 50-40"/>
<path d="M5450 3210c40-20 80-40 100-70M5480 3210l40-40-20 60"/>
<path d="M5460 3250c20-20 30-40 40-30s-20 30 0 20 30-30 40-30"/>
<path d="M5440 3300c20-20 40-50 80-60s20 30-10 40 -20-30 50-50M5470 3320l60-80"/>
</g>
<text x="6410" y="3200" font-size="30" text-anchor="middle" style="font-family:'Liberation Serif',serif">ОАО</text>
<text x="6430" y="3242" font-size="30" text-anchor="middle" textLength="280" lengthAdjust="spacingAndGlyphs" style="font-family:'Liberation Serif',serif">ЛЕНМЕТРОГИПРОТРАНС</text>
<g fill="none" stroke="#222" stroke-width="4">
<path d="M6225 3275A55 45 0 1 1 6320 3262"/>
<path d="M6255 3200V3275H6300M6255 3275L6295 3215"/>
<path d="M6235 3240V3285"/>
</g>
</svg>
</body></html>
